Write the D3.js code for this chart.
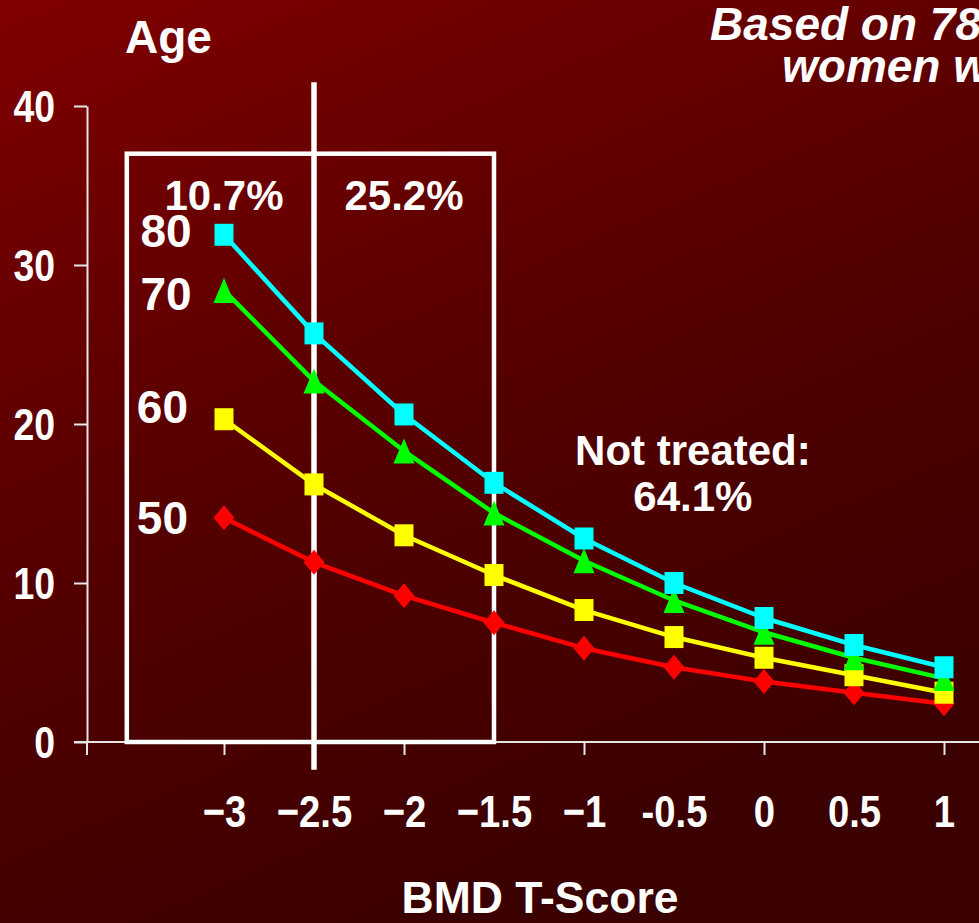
<!DOCTYPE html>
<html>
<head>
<meta charset="utf-8">
<script src="https://cdn.jsdelivr.net/npm/d3@7"></script>
<style>
  html, body { margin: 0; padding: 0; background: #5a0000; overflow: hidden; }
  svg { display: block; }
  text { font-family: "Liberation Sans", Arial, sans-serif; font-weight: bold; fill: #ffffff; }
</style>
</head>
<body>
<svg id="chart" width="979" height="923"></svg>
<script>
// ---- data ----
const tScores = [-3, -2.5, -2, -1.5, -1, -0.5, 0, 0.5, 1];
const xTickLabels = ["\u22123", "\u22122.5", "\u22122", "\u22121.5", "\u22121", "-0.5", "0", "0.5", "1"];
const yTicks = [0, 10, 20, 30, 40];
const xTickMarks = [-3, -2, -1, 0, 1];
const ages = ["50", "60", "70", "80"];
const age50 = [14.1, 11.3, 9.2, 7.5, 5.9, 4.7, 3.8, 3.1, 2.4];
const age60 = [20.3, 16.2, 13.0, 10.5, 8.3, 6.6, 5.3, 4.2, 3.1];
const age70 = [28.4, 22.7, 18.3, 14.4, 11.4, 8.9, 6.9, 5.3, 4.0];
const age80 = [31.9, 25.7, 20.6, 16.3, 12.8, 10.0, 7.8, 6.1, 4.7];
const seriesColors = ["#ff0000", "#ffff00", "#00ff00", "#00ffff"];
const seriesSymbols = ["diamond", "square", "triangle", "square"];
const groupShares = ["10.7%", "25.2%"];
const notTreatedShare = "64.1%";

// ---- layout ----
const W = 979, H = 923;
const svg = d3.select("#chart");
const x = d3.scaleLinear().domain([-3, 1]).range([224, 944]);
const y = d3.scaleLinear().domain([0, 40]).range([742, 106]);
const narrow = "scale(0.85,1)";

// background gradient
const defs = svg.append("defs");
const grad = defs.append("linearGradient").attr("id", "bg")
  .attr("x1", 0).attr("y1", 0).attr("x2", 0.45).attr("y2", 1);
grad.append("stop").attr("offset", 0).attr("stop-color", "#800000");
grad.append("stop").attr("offset", 0.5).attr("stop-color", "#570000");
grad.append("stop").attr("offset", 1).attr("stop-color", "#3b0000");
svg.append("rect").attr("width", W).attr("height", H).attr("fill", "url(#bg)");

// y axis
const yAxis = svg.append("g").attr("transform", "translate(87,0)")
  .call(d3.axisLeft(y).tickValues(yTicks).tickSize(13).tickSizeOuter(0).tickFormat(d3.format("d")));
yAxis.select(".domain").attr("stroke", "#e6e6e6").attr("stroke-width", 2);
yAxis.selectAll(".tick line").attr("stroke", "#e6e6e6").attr("stroke-width", 2);
yAxis.selectAll(".tick text")
  .attr("x", null).attr("dy", "0.36em")
  .attr("transform", "translate(-32,0) " + narrow)
  .style("font-size", "44px").style("font-family", "'Liberation Sans', Arial, sans-serif")
  .style("font-weight", "bold").attr("fill", "#fff");

// x axis line + tick marks
const xAxisMarks = svg.append("g").attr("transform", "translate(0,742)")
  .call(d3.axisBottom(x).tickValues(xTickMarks).tickSize(13).tickFormat(""));
xAxisMarks.select(".domain").remove();
xAxisMarks.selectAll(".tick line").attr("stroke", "#e6e6e6").attr("stroke-width", 2);
svg.append("line").attr("x1", 74).attr("x2", W).attr("y1", 742).attr("y2", 742)
  .attr("stroke", "#e6e6e6").attr("stroke-width", 2);
svg.append("line").attr("x1", 87).attr("x2", 87).attr("y1", 742).attr("y2", 755)
  .attr("stroke", "#e6e6e6").attr("stroke-width", 2);

// x axis labels
const xAxisLabels = svg.append("g").attr("transform", "translate(0,742)")
  .call(d3.axisBottom(x).tickValues(tScores).tickSize(0)
    .tickFormat((d, i) => xTickLabels[i]));
xAxisLabels.select(".domain").remove();
xAxisLabels.selectAll(".tick text")
  .attr("y", null).attr("dy", null)
  .attr("transform", "translate(0,85) " + narrow)
  .style("font-size", "45px").style("font-family", "'Liberation Sans', Arial, sans-serif")
  .style("font-weight", "bold").attr("fill", "#fff");

// boxes and -2.5 threshold line
svg.append("rect")
  .attr("x", x(-3.54)).attr("y", y(37))
  .attr("width", x(-1.5) - x(-3.54)).attr("height", y(0) - y(37))
  .attr("fill", "none").attr("stroke", "#ffffff").attr("stroke-width", 4.5);
svg.append("line")
  .attr("x1", x(-2.5)).attr("x2", x(-2.5)).attr("y1", y(41.5)).attr("y2", y(-1.75))
  .attr("stroke", "#ffffff").attr("stroke-width", 5.5);

// series
const series = [age50, age60, age70, age80];
const line = d3.line().x((d, i) => x(tScores[i])).y(d => y(d));
function markerPath(sym) {
  if (sym === "square") return "M-9.5,-11H9.5V11H-9.5Z";
  if (sym === "diamond") return "M0,-12.5L10.5,0L0,12.5L-10.5,0Z";
  return "M0,-12.5L10.5,12.5H-10.5Z";
}
series.forEach((vals, s) => {
  const g = svg.append("g");
  g.append("path").datum(vals).attr("d", line)
    .attr("fill", "none").attr("stroke", seriesColors[s]).attr("stroke-width", 4.5)
    .attr("stroke-linejoin", "round");
  g.selectAll("path.m").data(vals).join("path").attr("class", "m")
    .attr("transform", (d, i) => `translate(${x(tScores[i])},${y(d)})`)
    .attr("d", markerPath(seriesSymbols[s]))
    .attr("fill", seriesColors[s]);
});

// age labels
const ageLabelY = [13.08, 20.06, 27.17, 31.13];
const ageLabelX = [-3.2, -3.2, -3.18, -3.18];
ages.forEach((a, i) => {
  svg.append("text").attr("x", x(ageLabelX[i])).attr("y", y(ageLabelY[i]))
    .attr("text-anchor", "end").style("font-size", "46px").text(a);
});

// group share labels
svg.append("text").attr("x", x(-3)).attr("y", 210).attr("text-anchor", "middle")
  .style("font-size", "42px").text(groupShares[0]);
svg.append("text").attr("x", x(-2)).attr("y", 210).attr("text-anchor", "middle")
  .style("font-size", "42px").text(groupShares[1]);
svg.append("text").attr("x", x(-0.395)).attr("y", 465).attr("text-anchor", "middle")
  .style("font-size", "42px").text("Not treated:");
svg.append("text").attr("x", x(-0.395)).attr("y", 511).attr("text-anchor", "middle")
  .style("font-size", "42px").text(notTreatedShare);

// titles
svg.append("text").attr("x", 125).attr("y", 53).style("font-size", "46px").text("Age");
svg.append("text").attr("x", 540).attr("y", 913).attr("text-anchor", "middle")
  .style("font-size", "44.5px").text("BMD T-Score");
svg.append("text").attr("x", 710).attr("y", 40).style("font-size", "46px")
  .style("font-style", "italic").text("Based on 7859");
svg.append("text").attr("x", 782).attr("y", 82).style("font-size", "46px")
  .style("font-style", "italic").text("women with");
</script>
</body>
</html>
